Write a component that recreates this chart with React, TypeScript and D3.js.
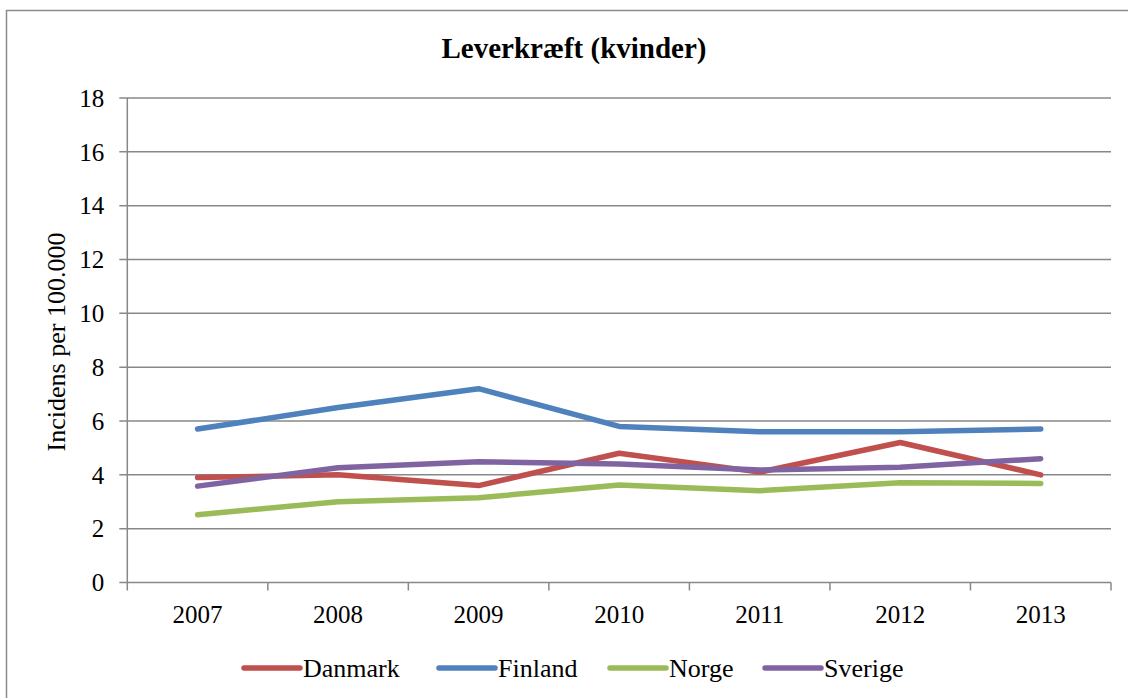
import React, { FC, useEffect, useRef } from "react"
import { select, scaleBand, scaleLinear, line, range } from "d3"

const years = ["2007", "2008", "2009", "2010", "2011", "2012", "2013"]
const yTicks = [0, 2, 4, 6, 8, 10, 12, 14, 16, 18]

const danmark = [3.9, 4.0, 3.6, 4.8, 4.1, 5.2, 4.0]
const finland = [5.7, 6.5, 7.2, 5.8, 5.6, 5.6, 5.7]
const norge = [2.52, 3.0, 3.15, 3.62, 3.41, 3.71, 3.68]
const sverige = [3.58, 4.26, 4.49, 4.4, 4.18, 4.28, 4.6]

const seriesNames = ["Danmark", "Finland", "Norge", "Sverige"]
const seriesColors = ["#C0504D", "#4F81BD", "#9BBB59", "#8064A2"]

const App: FC = () => {
  const svgRef = useRef<SVGSVGElement>(null)

  useEffect(() => {
    const width = 1128
    const height = 698
    const margins = { top: 98, right: 17, bottom: 115.5, left: 127.3 }
    const boundsWidth = width - margins.left - margins.right
    const boundsHeight = height - margins.top - margins.bottom
    const font = "'Liberation Serif', 'Times New Roman', serif"
    const gridColor = "#888888"

    const svg = select(svgRef.current)
    svg.selectAll("*").remove()

    // outer frame (top + left only visible)
    svg
      .append("path")
      .attr("d", `M6.5,${height + 5}V10.5H${width + 5}`)
      .attr("fill", "none")
      .attr("stroke", "#8c8c8c")
      .attr("stroke-width", 1.5)

    svg
      .append("text")
      .text("Leverkræft (kvinder)")
      .attr("x", 574)
      .attr("y", 58)
      .attr("text-anchor", "middle")
      .style("font-family", font)
      .style("font-weight", "bold")
      .style("font-size", "29px")
      .style("fill", "#000")

    const bounds = svg
      .append("g")
      .attr("transform", `translate(${margins.left}, ${margins.top})`)

    const xScale = scaleBand<string>().domain(years).range([0, boundsWidth])
    const yScale = scaleLinear().domain([0, 18]).range([boundsHeight, 0])

    // gridlines + y ticks
    bounds
      .selectAll(".grid")
      .data(yTicks)
      .join("line")
      .attr("x1", -8)
      .attr("x2", (d) => (d === 0 ? 0 : boundsWidth))
      .attr("y1", (d) => yScale(d))
      .attr("y2", (d) => yScale(d))
      .attr("stroke", gridColor)
      .attr("stroke-width", 1.5)

    bounds
      .selectAll(".ylab")
      .data(yTicks)
      .join("text")
      .text((d) => d)
      .attr("x", -23)
      .attr("y", (d) => yScale(d))
      .attr("dy", "0.35em")
      .attr("text-anchor", "end")
      .style("font-family", font)
      .style("font-size", "25px")
      .style("fill", "#000")

    // x axis
    bounds
      .append("line")
      .attr("x1", 0)
      .attr("x2", boundsWidth)
      .attr("y1", boundsHeight)
      .attr("y2", boundsHeight)
      .attr("stroke", gridColor)
      .attr("stroke-width", 1.5)

    bounds
      .append("line")
      .attr("x1", 0)
      .attr("x2", 0)
      .attr("y1", 0)
      .attr("y2", boundsHeight + 8)
      .attr("stroke", gridColor)
      .attr("stroke-width", 1.5)

    bounds
      .selectAll(".xtick")
      .data(range(1, years.length + 1))
      .join("line")
      .attr("x1", (i) => i * xScale.bandwidth())
      .attr("x2", (i) => i * xScale.bandwidth())
      .attr("y1", boundsHeight)
      .attr("y2", boundsHeight + 8)
      .attr("stroke", gridColor)
      .attr("stroke-width", 1.5)

    bounds
      .selectAll(".xlab")
      .data(years)
      .join("text")
      .text((d) => d)
      .attr("x", (d) => (xScale(d) ?? 0) + xScale.bandwidth() / 2)
      .attr("y", boundsHeight + 40)
      .attr("text-anchor", "middle")
      .style("font-family", font)
      .style("font-size", "25px")
      .style("fill", "#000")

    // y title
    svg
      .append("text")
      .text("Incidens per 100.000")
      .attr("transform", `translate(65, 342) rotate(-90)`)
      .attr("text-anchor", "middle")
      .style("font-family", font)
      .style("font-size", "26px")
      .style("fill", "#000")

    // lines
    const series = [danmark, finland, norge, sverige]
    const lineGen = line<number>()
      .x((_, i) => (xScale(years[i]) ?? 0) + xScale.bandwidth() / 2)
      .y((d) => yScale(d))

    series.forEach((values, i) => {
      bounds
        .append("path")
        .datum(values)
        .attr("d", lineGen)
        .attr("fill", "none")
        .attr("stroke", seriesColors[i])
        .attr("stroke-width", 5.5)
        .attr("stroke-linecap", "round")
        .attr("stroke-linejoin", "round")
    })

    // legend
    const legendX = [244, 439, 610, 765]
    const legendY = 668
    const legend = svg
      .selectAll(".legend")
      .data(seriesNames)
      .join("g")
      .attr("transform", (_, i) => `translate(${legendX[i]}, ${legendY})`)

    legend
      .append("line")
      .attr("x1", 0)
      .attr("x2", 56)
      .attr("y1", 0)
      .attr("y2", 0)
      .attr("stroke", (_, i) => seriesColors[i])
      .attr("stroke-width", 5.5)
      .attr("stroke-linecap", "round")

    legend
      .append("text")
      .text((d) => d)
      .attr("x", 59)
      .attr("y", 0)
      .attr("dy", "0.33em")
      .style("font-family", font)
      .style("font-size", "26px")
      .style("fill", "#000")
  }, [])

  return (
    <svg
      ref={svgRef}
      width={1128}
      height={698}
      style={{ position: "absolute", left: 0, top: 0, background: "#fff" }}
    />
  )
}

export default App
